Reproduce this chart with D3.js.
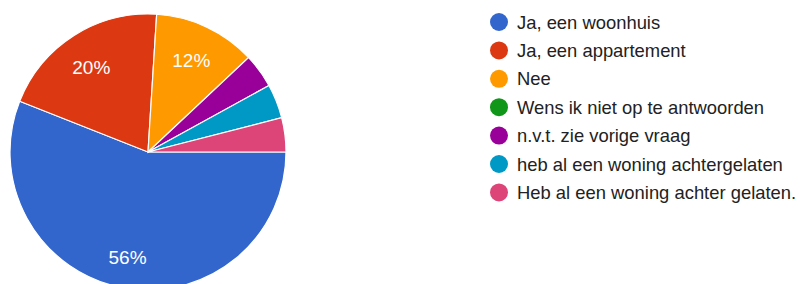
<!DOCTYPE html>
<html>
<head>
<meta charset="utf-8">
<script src="https://cdn.jsdelivr.net/npm/d3@7"></script>
<style>
  html, body { margin: 0; padding: 0; background: #fff; }
  svg { display: block; }
</style>
</head>
<body>
<svg id="chart" width="800" height="284"></svg>
<script>
const categories = [
  "Ja, een woonhuis",
  "Ja, een appartement",
  "Nee",
  "Wens ik niet op te antwoorden",
  "n.v.t. zie vorige vraag",
  "heb al een woning achtergelaten",
  "Heb al een woning achter gelaten."
];
const values = [14, 5, 3, 0, 1, 1, 1];
const colors = ["#3366cc", "#dc3912", "#ff9900", "#109618", "#990099", "#0099c6", "#dd4477"];

const svg = d3.select("#chart");
const cx = 148, cy = 152, R = 138;
const total = d3.sum(values);

const pie = d3.pie().sort(null).value(d => d.v)
  .startAngle(Math.PI / 2).endAngle(Math.PI / 2 + 2 * Math.PI);
const data = categories.map((c, i) => ({ c, v: values[i], col: colors[i] }));
const arcs = pie(data);

const arc = d3.arc().innerRadius(0).outerRadius(R);
const labelArc = d3.arc().innerRadius(104).outerRadius(104);

const g = svg.append("g").attr("transform", `translate(${cx},${cy})`);
g.selectAll("path.slice").data(arcs.filter(a => a.data.v > 0)).join("path")
  .attr("class", "slice")
  .attr("d", arc)
  .attr("fill", d => d.data.col)
  .attr("stroke", "#ffffff")
  .attr("stroke-width", 1.2);

g.selectAll("text.lbl").data(arcs.filter(a => a.data.v / total >= 0.1)).join("text")
  .attr("class", "lbl")
  .attr("transform", d => { const [x, y] = labelArc.centroid(d); return `translate(${x - 1},${y + 3})`; })
  .attr("text-anchor", "middle")
  .attr("dominant-baseline", "central")
  .attr("font-family", "Arial, 'Liberation Sans', sans-serif")
  .attr("font-size", 19)
  .attr("fill", "#ffffff")
  .text(d => Math.round(d.data.v / total * 100) + "%");

const legend = svg.append("g");
const rows = legend.selectAll("g").data(data).join("g")
  .attr("transform", (d, i) => `translate(499,${22 + i * 28.4})`);
rows.append("circle").attr("r", 9).attr("fill", d => d.col);
rows.append("text")
  .attr("x", 18)
  .attr("dominant-baseline", "central")
  .attr("font-family", "Arial, 'Liberation Sans', sans-serif")
  .attr("font-size", 18.4)
  .attr("fill", "#222")
  .text(d => d.c);
</script>
</body>
</html>
